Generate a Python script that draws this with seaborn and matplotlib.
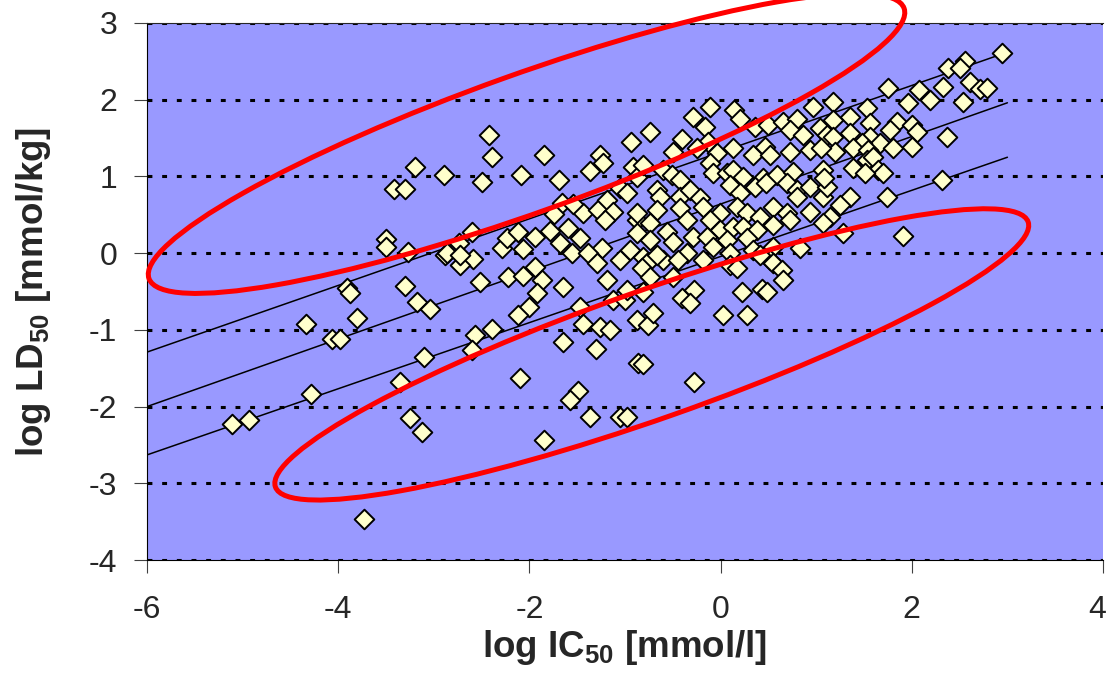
import numpy as np
import pandas as pd
import seaborn as sns
import matplotlib.pyplot as plt
from matplotlib.patches import Ellipse
from matplotlib.transforms import ScaledTranslation

# log IC50 (x) and log LD50 (y) for each compound
log_ic50 = [-3.20, -3.42, -3.30, -2.89, -3.50, -3.50, -3.27, -2.88, -3.91, -3.88,
            -3.30, -3.18, -3.04, -4.34, -3.80, -4.06, -3.98, -3.10, -3.35, -4.28,
            -5.11, -4.93, -3.25, -3.12, -3.73, -2.42, -2.39, -2.50, -2.09, -1.85,
            -1.69, -1.26, -1.23, -1.37, -0.94, -2.60, -2.74, -2.86, -2.59, -2.73,
            -2.29, -2.23, -2.12, -2.07, -1.94, -1.78, -1.66, -1.74, -1.60, -1.47,
            -1.44, -1.54, -1.68, -1.55, -1.28, -1.19, -1.13, -1.21, -1.05, -0.98,
            -0.92, -0.87, -1.24, -1.39, -1.05, -0.95, -0.87, -1.94, -2.52, -2.22,
            -2.07, -1.87, -1.92, -1.65, -2.00, -2.12, -2.39, -2.57, -2.60, -1.65,
            -1.47, -1.44, -1.26, -1.16, -1.30, -1.19, -1.13, -1.00, -0.98, -0.87,
            -1.29, -2.10, -1.49, -1.58, -1.37, -1.05, -0.98, -1.85, -0.86, -2.73,
            -0.11, -0.29, -0.16, 0.14, 0.20, -0.74, -0.40, -0.13, 0.36, 0.50,
            0.65, 0.80, 0.97, 0.73, 0.86, 1.04, 1.11, 0.13, 0.34, 0.46,
            0.52, 0.73, 0.94, -0.04, -0.25, -0.50, -0.81, -0.60, -0.51, -0.42,
            -0.11, -0.08, 0.07, 0.13, 0.23, 0.44, 0.59, 0.76, 1.07, -0.67,
            -0.63, -0.42, -0.32, 0.10, 0.20, 0.36, 0.48, 0.69, 0.80, 0.94,
            1.07, -0.87, -0.67, -0.42, -0.22, -0.18, -0.01, 0.17, 0.28, 0.41,
            0.55, 0.69, 0.80, 0.94, -0.74, -0.56, -0.35, -0.11, -0.01, 0.13,
            0.23, 0.38, 0.55, 0.73, -0.87, -0.74, -0.50, -0.29, -0.14, -0.08,
            0.07, 0.28, 0.34, 0.55, 0.83, -0.81, -0.60, -0.35, -0.18, 0.10,
            0.52, -0.77, -0.67, -0.45, 0.10, 0.17, -0.82, -0.74, -0.81, -0.50,
            -0.40, -0.28, -0.32, 0.22, 0.43, 0.49, 0.55, 0.64, 0.65, 0.41,
            -0.76, -0.71, 0.02, 0.28, -0.81, -0.28, 2.94, 2.56, 2.38, 2.50,
            2.61, 2.71, 2.79, 2.33, 2.54, 2.08, 2.19, 1.96, 1.75, 1.53,
            1.18, 1.35, 1.56, 1.85, 2.00, 2.05, 1.77, 2.37, 1.18, 1.35,
            1.56, 1.67, 1.48, 1.18, 1.20, 1.39, 1.54, 1.80, 2.00, 1.39,
            1.53, 1.59, 1.65, 1.70, 1.51, 1.11, 1.35, 1.25, 1.74, 2.32,
            1.14, 1.28, 1.91, 1.05, 1.08, 1.07]
log_ld50 = [1.12, 0.83, 0.83, 1.02, 0.18, 0.08, 0.01, -0.03, -0.46, -0.52,
            -0.43, -0.64, -0.73, -0.93, -0.85, -1.12, -1.12, -1.36, -1.68, -1.83,
            -2.23, -2.18, -2.15, -2.33, -3.46, 1.54, 1.25, 0.93, 1.02, 1.28,
            0.95, 1.28, 1.17, 1.07, 1.45, 0.27, 0.13, 0.00, -0.08, -0.16,
            0.07, 0.20, 0.27, 0.05, 0.21, 0.29, 0.66, 0.51, 0.33, 0.20,
            0.52, 0.64, 0.13, 0.00, 0.56, 0.69, 0.53, 0.43, 0.85, 0.78,
            1.12, 0.99, 0.07, 0.00, -0.09, 0.04, 0.43, -0.18, -0.38, -0.31,
            -0.30, -0.35, -0.52, -0.44, -0.70, -0.81, -0.99, -1.07, -1.26, -1.16,
            -0.70, -0.93, -0.96, -1.00, -1.25, -0.35, -0.61, -0.61, -0.48, -0.87,
            -0.13, -1.63, -1.80, -1.92, -2.13, -2.14, -2.14, -2.44, -1.43, -0.03,
            1.90, 1.77, 1.64, 1.86, 1.75, 1.58, 1.49, 1.45, 1.64, 1.67,
            1.71, 1.75, 1.90, 1.60, 1.54, 1.63, 1.54, 1.37, 1.28, 1.38,
            1.28, 1.32, 1.34, 1.30, 1.37, 1.32, 1.15, 1.08, 1.02, 0.95,
            1.17, 1.04, 1.04, 1.08, 0.99, 0.98, 1.02, 1.06, 1.08, 0.82,
            0.73, 0.73, 0.82, 0.89, 0.78, 0.86, 0.91, 0.91, 0.82, 0.86,
            0.73, 0.52, 0.56, 0.59, 0.72, 0.60, 0.52, 0.60, 0.52, 0.47,
            0.60, 0.52, 0.73, 0.53, 0.39, 0.27, 0.43, 0.43, 0.30, 0.34,
            0.34, 0.30, 0.37, 0.43, 0.26, 0.17, 0.14, 0.21, 0.21, 0.08,
            0.17, 0.20, 0.04, 0.08, 0.07, -0.05, -0.09, 0.00, -0.09, 0.00,
            -0.09, -0.13, -0.03, -0.09, -0.16, -0.20, -0.20, -0.31, -0.51, -0.31,
            -0.59, -0.48, -0.65, -0.50, -0.47, -0.50, -0.13, -0.22, -0.35, -0.03,
            -0.94, -0.78, -0.81, -0.81, -1.45, -1.68, 2.61, 2.50, 2.41, 2.41,
            2.23, 2.14, 2.15, 2.16, 1.97, 2.13, 1.99, 1.96, 2.15, 1.89,
            1.97, 1.77, 1.69, 1.71, 1.67, 1.58, 1.60, 1.51, 1.73, 1.56,
            1.51, 1.43, 1.43, 1.51, 1.32, 1.37, 1.34, 1.37, 1.38, 1.11,
            1.21, 1.25, 1.08, 1.04, 1.04, 0.86, 0.73, 0.63, 0.73, 0.95,
            0.47, 0.26, 0.22, 1.37, 0.98, 0.39]

# regression line and +/- band, end points at x = -6 and x = 3
line_x = [-6, 3]
fit_upper = [-1.29, 2.62]
fit_mid = [-2.00, 1.96]
fit_lower = [-2.63, 1.25]

# outlier ellipses: centre (data), width, height (inch), angle (deg)
ellipses = [(-2.03, 1.43, 8.02, 1.38, 19.7),
            (-0.72, -1.32, 7.98, 1.28, 19.4)]

x_ticks = [-6, -4, -2, 0, 2, 4]
y_ticks = [-4, -3, -2, -1, 0, 1, 2, 3]

sns.set_style('ticks')
plt.rcParams['font.family'] = ['Liberation Sans', 'DejaVu Sans']
plt.rcParams['mathtext.fontset'] = 'custom'
plt.rcParams['mathtext.rm'] = 'Liberation Sans'
plt.rcParams['mathtext.bf'] = 'Liberation Sans:bold'
plt.rcParams['axes.unicode_minus'] = False

fig = plt.figure(figsize=(11.08, 6.75), dpi=100)
ax = fig.add_axes([147 / 1108, 115 / 675, 956 / 1108, 537 / 675])
ax.set_facecolor('#9999ff')

for fit in [fit_upper, fit_mid, fit_lower]:
    sns.lineplot(x=line_x, y=fit, color='black', linewidth=1.1, ax=ax, zorder=2)

sns.scatterplot(x=log_ic50, y=log_ld50, marker='D', s=100, color='#ffffcc',
                edgecolor='black', linewidth=1.4, ax=ax, zorder=3)

ax.set_xlim(-6, 4)
ax.set_ylim(-4, 3)
ax.set_xticks(x_ticks)
ax.set_yticks(y_ticks)
ax.set_axisbelow(True)
ax.grid(axis='y', color='black', linestyle=(0, (1.6, 3.2)), linewidth=2.2)
ax.grid(axis='x', visible=False)

for cx, cy, w, h, ang in ellipses:
    trans = fig.dpi_scale_trans + ScaledTranslation(cx, cy, ax.transData)
    ax.add_patch(Ellipse((0, 0), w, h, angle=ang, transform=trans, fill=False,
                         edgecolor='red', linewidth=3.6, clip_on=False, zorder=5))

ax.spines['right'].set_visible(False)
ax.spines['top'].set_linewidth(0.8)
ax.spines['left'].set_color('black')
ax.spines['bottom'].set_color('black')
ax.tick_params(axis='both', labelsize=23, length=9.5, width=0.8, color='#404040')
ax.tick_params(axis='x', pad=16)
ax.tick_params(axis='y', pad=12)

# last x tick label sits on the figure edge, nudge it inside
last = ax.get_xticklabels()[-1]
last.set_transform(last.get_transform() + ScaledTranslation(-6 / 100, 0, fig.dpi_scale_trans))

ax.set_xlabel(r'log IC$_\mathbf{50}$ [mmol/l]', fontsize=26.5, fontweight='bold')
ax.set_ylabel(r'log LD$_\mathbf{50}$ [mmol/kg]', fontsize=26.5, fontweight='bold')
ax.xaxis.set_label_coords(0.5, -0.126)
ax.yaxis.set_label_coords(-0.098, 0.5)

fig.savefig('out.png', dpi=100)
